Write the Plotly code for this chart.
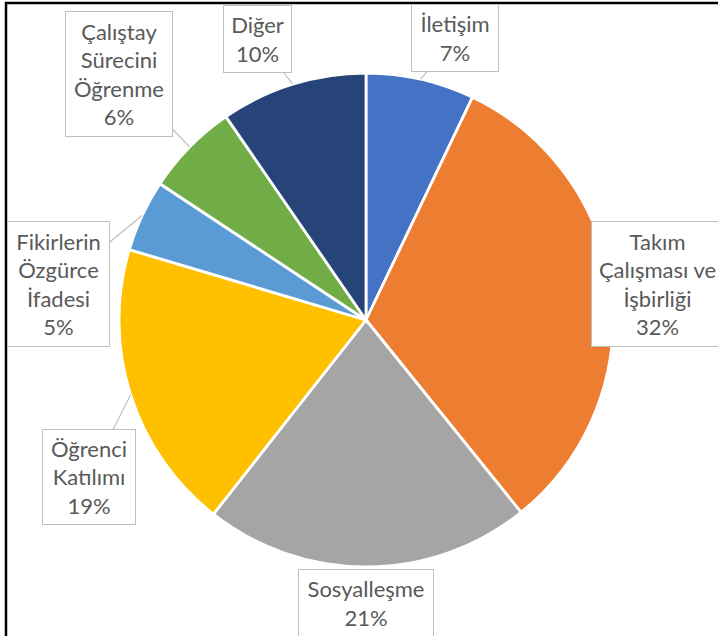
import math
import plotly.graph_objects as go

# ---- data ----
categories = ["İletişim", "Takım Çalışması ve İşbirliği", "Sosyalleşme",
              "Öğrenci Katılımı", "Fikirlerin Özgürce İfadesi",
              "Çalıştay Sürecini Öğrenme", "Diğer"]
values = [7.1, 32.1, 21.4, 19.0, 4.7, 6.1, 9.6]
label_lines = [["İletişim"], ["Takım", "Çalışması ve", "İşbirliği"], ["Sosyalleşme"],
               ["Öğrenci", "Katılımı"], ["Fikirlerin", "Özgürce", "İfadesi"],
               ["Çalıştay", "Sürecini", "Öğrenme"], ["Diğer"]]
colors = ["#4472C4", "#ED7D31", "#A5A5A5", "#FFC000", "#5B9BD5", "#70AD47", "#264478"]

# ---- layout ----
W, H = 718, 636
cx, cy, R = 366, 320, 247
# label boxes: center x, center y, width, height (pixels), arrow?
boxes = [
    (455, 38, 88, 68, True),
    (657.5, 284, 133, 126, False),
    (366, 603, 136, 68, False),
    (89, 477, 94, 96, True),
    (58.5, 284, 103, 126, True),
    (119, 74, 108, 126, True),
    (257.5, 39, 69, 68, True),
]

fig = go.Figure(go.Pie(
    labels=categories, values=values, sort=False, direction="clockwise",
    rotation=0, textinfo="none", hoverinfo="label+percent",
    marker=dict(colors=colors, line=dict(color="white", width=2.8)),
    domain=dict(x=[(cx - R) / W, (cx + R) / W], y=[1 - (cy + R) / H, 1 - (cy - R) / H]),
    showlegend=False,
))

total = sum(values)
cum = 0.0
annotations = []
for i, v in enumerate(values):
    mid = (cum + v / 2) / total * 2 * math.pi
    cum += v
    tx = cx + R * math.sin(mid)
    ty = cy - R * math.cos(mid)
    bx, by, bw, bh, arrow = boxes[i]
    pct = int(v / total * 100 + 0.5)
    text = "<br>".join(label_lines[i] + [f"{pct}%"])
    common = dict(text=text, xref="paper", yref="paper", align="center",
                  font=dict(family="Lato, 'Open Sans', sans-serif", size=22, color="#595959"),
                  bgcolor="white", bordercolor="#BFBFBF", borderwidth=1, borderpad=0,
                  width=bw - 2, height=bh - 2, valign="middle")
    if arrow:
        annotations.append(dict(x=tx / W, y=1 - ty / H, showarrow=True, arrowhead=0,
                                arrowwidth=1.2, arrowcolor="#BFBFBF", axref="pixel", ayref="pixel",
                                ax=bx - tx, ay=by - ty, **common))
    else:
        annotations.append(dict(x=bx / W, y=1 - by / H, showarrow=False,
                                xanchor="center", yanchor="middle", **common))

fig.update_layout(
    width=W, height=H, margin=dict(l=0, r=0, t=0, b=0),
    paper_bgcolor="white", plot_bgcolor="white",
    annotations=annotations,
    shapes=[dict(type="rect", xref="paper", yref="paper",
                 x0=6 / W, x1=1.05, y0=-0.05, y1=1 - 3 / H,
                 line=dict(color="black", width=2.5), layer="above")],
)

fig.write_html("out.html", config={"displayModeBar": False},
               post_script="document.body.style.margin='0';document.body.style.overflow='hidden';")
